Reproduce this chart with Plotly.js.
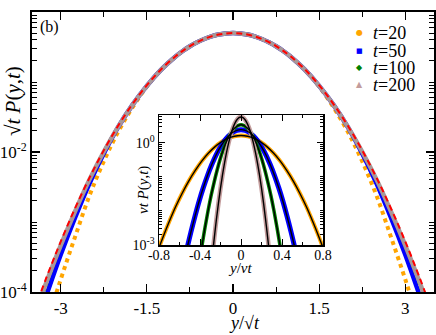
<!DOCTYPE html>
<html><head><meta charset="utf-8">
<script src="https://cdn.plot.ly/plotly-3.0.1.min.js"></script>
<style>html,body{margin:0;padding:0;background:#fff}</style>
</head><body><div id="chart" style="width:436px;height:335px"></div>
<script>
// ---- main panel: scaled variable y/sqrt(t) ----
const scaledX = [-3.4,-3.25,-3,-2.75,-2.5,-2.25,-2,-1.75,-1.5,-1.25,-1,-0.875,-0.75,-0.625,-0.5,-0.375,-0.25,-0.125,0,0.125,0.25,0.375,0.5,0.625,0.75,0.875,1,1.25,1.5,1.75,2,2.25,2.5,2.75,3,3.25,3.4];
const scaledP20  = [1.3e-5,3.4e-5,1.51e-4,6.13e-4,2.37e-3,7.35e-3,0.0194,0.0433,0.0859,0.150,0.231,0.277,0.324,0.370,0.412,0.449,0.4765,0.494,0.5,0.494,0.4765,0.449,0.412,0.370,0.324,0.277,0.231,0.150,0.0859,0.0433,0.0194,7.35e-3,2.37e-3,6.13e-4,1.51e-4,3.4e-5,1.3e-5];
const scaledP50  = [3.8e-5,8.9e-5,3.4e-4,1.15e-3,3.54e-3,9.5e-3,0.0226,0.0471,0.0881,0.150,0.231,0.277,0.324,0.370,0.412,0.449,0.4765,0.494,0.5,0.494,0.4765,0.449,0.412,0.370,0.324,0.277,0.231,0.150,0.0881,0.0471,0.0226,9.5e-3,3.54e-3,1.15e-3,3.4e-4,8.9e-5,3.8e-5];
const scaledP100 = [5.9e-5,1.28e-4,4.44e-4,1.39e-3,3.92e-3,0.01007,0.0229,0.0471,0.0881,0.150,0.231,0.277,0.324,0.370,0.412,0.449,0.4765,0.494,0.5,0.494,0.4765,0.449,0.412,0.370,0.324,0.277,0.231,0.150,0.0881,0.0471,0.0229,0.01007,3.92e-3,1.39e-3,4.44e-4,1.28e-4,5.9e-5];
const scaledP200 = [6.35e-5,1.38e-4,4.63e-4,1.42e-3,4.03e-3,0.01007,0.0229,0.0471,0.0881,0.150,0.231,0.277,0.324,0.370,0.412,0.449,0.4765,0.494,0.5,0.494,0.4765,0.449,0.412,0.370,0.324,0.277,0.231,0.150,0.0881,0.0471,0.0229,0.01007,4.03e-3,1.42e-3,4.63e-4,1.38e-4,6.35e-5];
const scaledFit  = [7.46e-5,1.6e-4,5.25e-4,1.57e-3,4.27e-3,0.01055,0.0237,0.0484,0.09,0.152,0.233,0.279,0.326,0.371,0.413,0.449,0.476,0.494,0.5,0.494,0.476,0.449,0.413,0.371,0.326,0.279,0.233,0.152,0.09,0.0484,0.0237,0.01055,4.27e-3,1.57e-3,5.25e-4,1.6e-4,7.46e-5];

// ---- inset: y/(vt) ----
const insetX20 = [-0.867,-0.829,-0.765,-0.701,-0.638,-0.574,-0.51,-0.446,-0.383,-0.319,-0.255,-0.191,-0.128,-0.064,0,0.064,0.128,0.191,0.255,0.319,0.383,0.446,0.51,0.574,0.638,0.701,0.765,0.829,0.867];
const insetP20 = [2.21e-4,4.79e-4,1.59e-3,4.83e-3,0.0133,0.0332,0.0754,0.155,0.291,0.495,0.763,1.07,1.36,1.572,1.65,1.572,1.36,1.07,0.763,0.495,0.291,0.155,0.0754,0.0332,0.0133,4.83e-3,1.59e-3,4.79e-4,2.21e-4];
const insetX50 = [-0.554,-0.53,-0.489,-0.448,-0.408,-0.367,-0.326,-0.285,-0.245,-0.204,-0.163,-0.122,-0.082,-0.041,0,0.041,0.082,0.122,0.163,0.204,0.245,0.285,0.326,0.367,0.408,0.448,0.489,0.53,0.554];
const insetP50 = [3.28e-4,7.1e-4,2.37e-3,7.18e-3,0.0197,0.0493,0.112,0.231,0.432,0.735,1.133,1.589,2.02,2.335,2.45,2.335,2.02,1.589,1.133,0.735,0.432,0.231,0.112,0.0493,0.0197,7.18e-3,2.37e-3,7.1e-4,3.28e-4];
const insetX100 = [-0.398,-0.38,-0.351,-0.322,-0.293,-0.263,-0.234,-0.205,-0.176,-0.146,-0.117,-0.088,-0.059,-0.029,0,0.029,0.059,0.088,0.117,0.146,0.176,0.205,0.234,0.263,0.293,0.322,0.351,0.38,0.398];
const insetP100 = [4.56e-4,9.86e-4,3.28e-3,9.96e-3,0.0274,0.0685,0.155,0.32,0.599,1.02,1.572,2.205,2.803,3.24,3.4,3.24,2.803,2.205,1.572,1.02,0.599,0.32,0.155,0.0685,0.0274,9.96e-3,3.28e-3,9.86e-4,4.56e-4];
const insetX200 = [-0.272,-0.26,-0.24,-0.22,-0.2,-0.18,-0.16,-0.14,-0.12,-0.1,-0.08,-0.06,-0.04,-0.02,0,0.02,0.04,0.06,0.08,0.1,0.12,0.14,0.16,0.18,0.2,0.22,0.24,0.26,0.272];
const insetP200 = [7.77e-4,1.68e-3,5.6e-3,0.017,0.0467,0.1168,0.265,0.546,1.022,1.739,2.682,3.762,4.782,5.527,5.8,5.527,4.782,3.762,2.682,1.739,1.022,0.546,0.265,0.1168,0.0467,0.017,5.6e-3,1.68e-3,7.77e-4];

const legendLabels = ['<i>t</i>=20','<i>t</i>=50','<i>t</i>=100','<i>t</i>=200'];
const legendGlyphs = ['\u25CF','\u25A0','\u25C6','\u25B2'];
const colors = ['#ffa500','#0000ff','#008000','#c39c9c'];

const SERIF = '"Liberation Serif", "Times New Roman", serif';
const L = 32, R = 434, T = 12, B = 292;
const px = x => (x - L) / (R - L);
const py = y => (B - y) / (B - T);

const sp = {shape:'spline', smoothing:1};
const traces = [
  {x:scaledX, y:scaledP20, mode:'lines', line:Object.assign({color:colors[0], width:4, dash:'dot'}, sp)},
  {x:scaledX, y:scaledP50, mode:'lines', line:Object.assign({color:colors[1], width:4.5}, sp)},
  {x:scaledX, y:scaledP100, mode:'lines', line:Object.assign({color:colors[2], width:3, dash:'dot'}, sp)},
  {x:scaledX, y:scaledP200, mode:'lines', line:Object.assign({color:'#a89898', width:4.5}, sp)},
  {x:scaledX, y:scaledFit, mode:'lines', line:Object.assign({color:'#ff0000', width:2, dash:'6px,4px'}, sp)},
];
const insetSets = [[insetX20, insetP20, 4],[insetX50, insetP50, 5],[insetX100, insetP100, 3.5],[insetX200, insetP200, 4.5]];
insetSets.forEach((s, i) => {
  traces.push({x:s[0], y:s[1], xaxis:'x2', yaxis:'y2', mode:'lines', line:Object.assign({color:colors[i], width:s[2]}, sp)});
});
insetSets.forEach((s, i) => {
  traces.push({x:s[0], y:s[1], xaxis:'x2', yaxis:'y2', mode:'lines', line:Object.assign({color:'#000', width:1.4}, sp)});
});

function decadeMinors(lo, hi) {
  const v = [];
  for (let e = lo; e <= hi; e++) for (let k = 1; k <= 9; k++) v.push(k * Math.pow(10, e));
  return v;
}
const mainYMinor = decadeMinors(-4, -1).filter(v => v > 1.0001e-4 && Math.abs(v - 0.01) > 1e-9);
const insetYMinor = decadeMinors(-3, 0).filter(v => v > 1.0001e-3 && Math.abs(v - 1) > 1e-9 && v < 6.6);

const axBase = {showline:true, linecolor:'black', mirror:'allticks', showgrid:false, zeroline:false,
  ticks:'inside', tickcolor:'black'};

const ann = [];
function addAnn(text, x, y, size, extra) {
  ann.push(Object.assign({text, x:px(x), y:py(y), xref:'paper', yref:'paper', showarrow:false,
    xanchor:'center', yanchor:'middle', font:{family:SERIF, size, color:'black'}}, extra || {}));
}
addAnn('\u221A<i>t</i> <i>P</i>(<i>y</i>,<i>t</i>)', 13, 101, 21, {textangle:-90});
addAnn('<i>y</i>/\u221A<i>t</i>', 244, 323, 18);
addAnn('(b)', 49, 27, 16);
addAnn('<i>vt P</i>(<i>y</i>,<i>t</i>)', 143, 190, 15, {textangle:-90});
addAnn('<i>y</i>/<i>vt</i>', 240, 268, 15);
const legY = [33, 51, 68, 85];
legendLabels.forEach((lab, i) => {
  addAnn(legendGlyphs[i], 359, legY[i], i === 1 ? 7 : 8, {font:{family:'DejaVu Sans', size: i === 1 ? 7 : 8, color: colors[i]}});
  addAnn(lab, 371, legY[i], 18, {xanchor:'left'});
});

const layout = {
  width:436, height:335, margin:{l:L, r:436-R, t:T, b:335-B},
  paper_bgcolor:'white', plot_bgcolor:'white', showlegend:false,
  xaxis:Object.assign({}, axBase, {domain:[0,1], range:[-3.5,3.5], linewidth:2, ticklen:8, tickwidth:1.2,
    tickvals:[-3,-1.5,0,1.5,3], ticktext:['-3','-1.5','0','1.5','3'],
    tickfont:{family:SERIF, size:17, color:'black'},
    minor:{tickvals:[-2.25,-0.75,0.75,2.25], ticks:'inside', ticklen:5, tickcolor:'black', tickwidth:1, showgrid:false}}),
  yaxis:Object.assign({}, axBase, {domain:[0,1], type:'log', range:[-4,0], linewidth:2, ticklen:8, tickwidth:1.2,
    tickvals:[1e-4,1e-2,1], ticktext:['10<sup>-4</sup>','10<sup>-2</sup>','10<sup>0</sup>'],
    tickfont:{family:SERIF, size:17, color:'black'},
    minor:{tickvals:mainYMinor, ticks:'inside', ticklen:5, tickcolor:'black', tickwidth:1, showgrid:false}}),
  xaxis2:Object.assign({}, axBase, {domain:[px(159), px(323)], anchor:'y2', range:[-0.8,0.8], linewidth:1.5, ticklen:6, tickwidth:1,
    tickvals:[-0.8,-0.4,0,0.4,0.8], ticktext:['-0.8','-0.4','0','0.4','0.8'], ticklabelstandoff:-3,
    tickfont:{family:SERIF, size:14, color:'black'},
    minor:{tickvals:[-0.6,-0.2,0.2,0.6], ticks:'inside', ticklen:3, tickcolor:'black', tickwidth:1, showgrid:false}}),
  yaxis2:Object.assign({}, axBase, {domain:[py(245), py(115)], anchor:'x2', type:'log', range:[-3,0.82], linewidth:1.5, ticklen:6, tickwidth:1,
    tickvals:[1e-3,1], ticktext:['10<sup>-3</sup>','10<sup>0</sup>'],
    tickfont:{family:SERIF, size:14, color:'black'},
    minor:{tickvals:insetYMinor, ticks:'inside', ticklen:3, tickcolor:'black', tickwidth:1, showgrid:false}}),
  annotations:ann
};
Plotly.newPlot('chart', traces, layout, {staticPlot:true, displayModeBar:false});
</script></body></html>
